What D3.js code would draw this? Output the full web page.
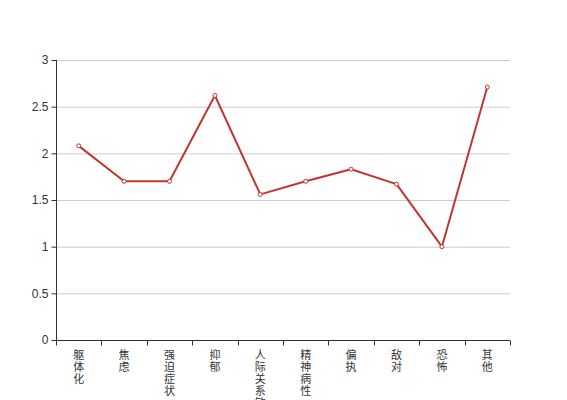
<!DOCTYPE html>
<html>
<head>
<meta charset="utf-8">
<script src="https://cdn.jsdelivr.net/npm/d3@7"></script>
<style>
  body { margin: 0; background: #fff; }
  svg { display: block; font-family: "Noto Sans CJK SC", sans-serif; }
</style>
</head>
<body>
<div id="chart"></div>
<script>
// categories and scores
var categories = ["躯体化", "焦虑", "强迫症状", "抑郁", "人际关系敏感", "精神病性", "偏执", "敌对", "恐怖", "其他"];
var scores = [2.08, 1.70, 1.70, 2.62, 1.56, 1.70, 1.83, 1.67, 1.00, 2.71];
var yTicks = [0, 0.5, 1, 1.5, 2, 2.5, 3];

var width = 567, height = 400;
var margin = {left: 56, right: 57, top: 60, bottom: 60};
var w = width - margin.left - margin.right;
var h = height - margin.top - margin.bottom;
var red = "#c23531";

var svg = d3.select("#chart").append("svg")
    .attr("width", width)
    .attr("height", height);
var g = svg.append("g")
    .attr("transform", "translate(" + margin.left + "," + margin.top + ")");

var x = d3.scaleBand().domain(categories).range([0, w]);
var y = d3.scaleLinear().domain([0, 3]).range([h, 0]);

// grid lines
g.append("g").selectAll("line")
    .data(yTicks.filter(function(d) { return d > 0; }))
    .enter().append("line")
    .attr("x1", 0).attr("x2", w)
    .attr("y1", function(d) { return y(d) + 0.5; })
    .attr("y2", function(d) { return y(d) + 0.5; })
    .attr("stroke", "#ccc");

// y axis
var yAxis = d3.axisLeft(y).tickValues(yTicks).tickSize(5).tickPadding(3)
    .tickFormat(function(d) { return d; });
var ya = g.append("g").attr("transform", "translate(0.5,0)").call(yAxis);
ya.selectAll("text").style("font-size", "12px").style("font-family", "sans-serif").attr("fill", "#333");
ya.selectAll("line").attr("stroke", "#333");
ya.select(".domain").attr("stroke", "#333").attr("d", "M0," + h + "V0");

// x axis: ticks on band boundaries
var xa = g.append("g").attr("transform", "translate(0," + (h + 0.5) + ")");
xa.append("line").attr("x1", 0).attr("x2", w).attr("stroke", "#333");
var bounds = categories.map(function(c) { return x(c); }).concat([w]);
xa.selectAll(".tk").data(bounds).enter().append("line")
    .attr("class", "tk")
    .attr("x1", function(d) { return Math.round(d) + 0.5; })
    .attr("x2", function(d) { return Math.round(d) + 0.5; })
    .attr("y1", 0).attr("y2", 5)
    .attr("stroke", "#333");

// vertical stacked labels, one character per line
var labels = xa.selectAll(".lb").data(categories).enter().append("text")
    .attr("class", "lb")
    .attr("fill", "#333")
    .style("font-size", "11px")
    .attr("text-anchor", "middle");
labels.each(function(c) {
    var t = d3.select(this);
    Array.from(c).forEach(function(ch, i) {
        t.append("tspan")
            .attr("x", x(c) + x.bandwidth() / 2)
            .attr("y", 18 + i * 12)
            .text(ch);
    });
});

// line
var line = d3.line()
    .x(function(d, i) { return x(categories[i]) + x.bandwidth() / 2; })
    .y(function(d) { return y(d); });

g.append("path")
    .datum(scores)
    .attr("d", line)
    .attr("fill", "none")
    .attr("stroke", red)
    .attr("stroke-width", 2)
    .attr("stroke-linejoin", "round");

g.selectAll(".pt").data(scores).enter().append("circle")
    .attr("class", "pt")
    .attr("cx", function(d, i) { return x(categories[i]) + x.bandwidth() / 2; })
    .attr("cy", function(d) { return y(d); })
    .attr("r", 2)
    .attr("fill", "#fff")
    .attr("stroke", red)
    .attr("stroke-width", 1);
</script>
</body>
</html>
